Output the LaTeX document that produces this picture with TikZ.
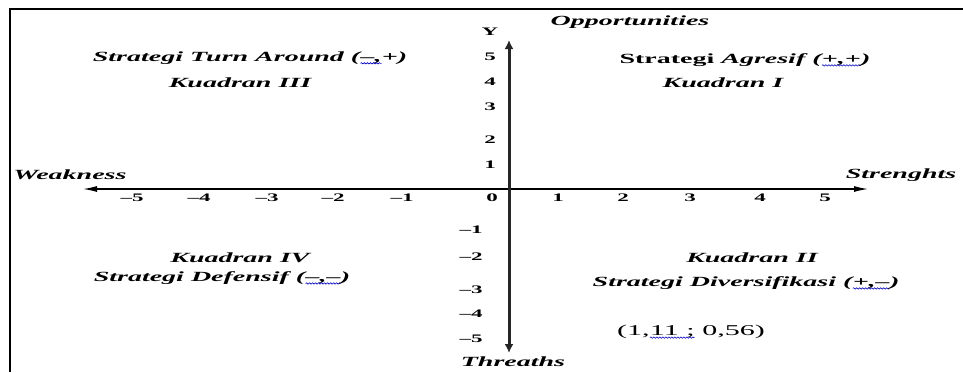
\documentclass[tikz,border=0pt]{standalone}
\usepackage{fontspec}
\setmainfont{Liberation Serif}[FakeStretch=2.0]
\usetikzlibrary{arrows.meta,decorations.pathmorphing}
\newcommand\sqg[1]{\tikz[baseline=(sq.base)]{\node[inner sep=0pt,outer sep=0pt](sq){#1};\draw[blue!75!black,line width=0.6pt,decorate,decoration={snake,amplitude=0.7pt,segment length=3pt}] ([yshift=-2pt]sq.base west) -- ([yshift=-2pt]sq.base east);}}
\begin{document}
\begin{tikzpicture}[x=1pt,y=-1pt,
  lab/.style={inner sep=0pt,font=\bfseries\itshape\fontsize{14}{16}\selectfont},
  num/.style={inner sep=0pt,font=\bfseries\fontsize{11.5}{13}\selectfont},
  coord/.style={inner sep=0pt,font=\fontsize{15}{17}\selectfont},
  frame/.style={line width=2.5pt,black},
  haxis/.style={line width=1.2pt,{Latex[length=14pt,width=6pt]}-{Latex[length=14pt,width=6pt]}},
  vaxis/.style={line width=3pt,black!85,{Latex[length=9pt,width=9pt]}-{Latex[length=9pt,width=9pt]}}]
\useasboundingbox (0,0) rectangle (963,372);
% frame
\coordinate (fbl) at (10,372);
\coordinate (ftl) at (10,9);
\coordinate (ftr) at (963,9);
\draw[frame] (fbl) -- (ftl) -- (ftr);
% axes
\coordinate (xl) at (83,189);
\coordinate (xr) at (868,189);
\coordinate (yt) at (509,40);
\coordinate (yb) at (509,353);
\draw[haxis] (xl) -- (xr);
\draw[vaxis] (yb) -- (yt);
% x ticks
\node[num] (xm5) at (132,198) {–5};
\node[num] (xm4) at (199,198) {–4};
\node[num] (xm3) at (267,198) {–3};
\node[num] (xm2) at (333,198) {–2};
\node[num] (xm1) at (402,198) {–1};
\node[num] (x0) at (492,198) {0};
\node[num] (x1) at (558,198) {1};
\node[num] (x2) at (623,198) {2};
\node[num] (x3) at (690,198) {3};
\node[num] (x4) at (760,198) {4};
\node[num] (x5) at (825,198) {5};
% y ticks
\node[num] (ylab) at (490,32) {Y};
\node[num] (y5) at (490,57) {5};
\node[num] (y4) at (490,82) {4};
\node[num] (y3) at (490,107) {3};
\node[num] (y2) at (490,140) {2};
\node[num] (y1) at (490,165) {1};
\node[num] (ym1) at (471,230) {–1};
\node[num] (ym2) at (471,257) {–2};
\node[num] (ym3) at (471,290) {–3};
\node[num] (ym4) at (471,314) {–4};
\node[num] (ym5) at (471,339) {–5};
% axis names
\node[lab] (opp) at (630,22) {Opportunities};
\node[lab] (thr) at (513,362) {Threaths};
\node[lab] (weak) at (70,175) {Weakness};
\node[lab] (str) at (901,175) {Strenghts};
% quadrants
\node[lab] (s3) at (250,58) {Strategi Turn Around (\sqg{–,}+)};
\node[lab] (k3) at (240,83) {Kuadran III};
\node[lab] (s1) at (745,60) {\upshape Strategi \itshape Agresif (\sqg{+,+})};
\node[lab] (k1) at (723,83) {Kuadran I};
\node[lab] (k4) at (240,258) {Kuadran IV};
\node[lab] (s4) at (222,278) {Strategi Defensif (\sqg{–,–})};
\node[lab] (k2) at (752,258) {Kuadran II};
\node[lab] (s2) at (746,283) {Strategi Diversifikasi (\sqg{+,–})};
\node[coord] (pt) at (691,332) {(1,\sqg{11 ;} 0,56)};
\end{tikzpicture}
\end{document}
